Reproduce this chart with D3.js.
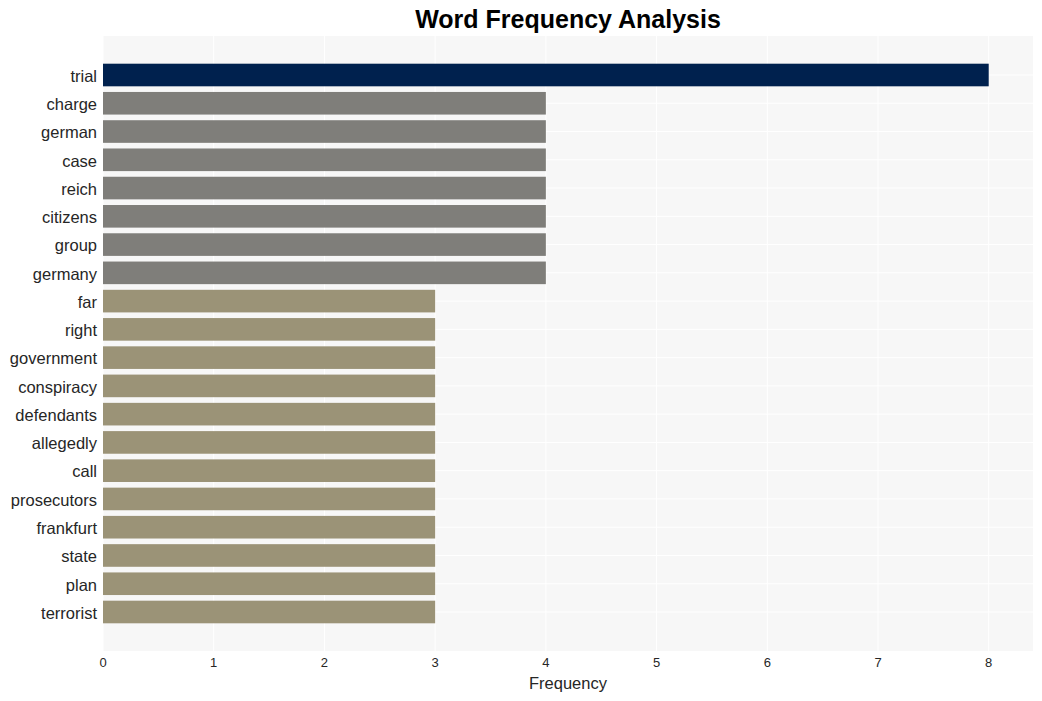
<!DOCTYPE html>
<html>
<head>
<meta charset="utf-8">
<script src="https://cdn.jsdelivr.net/npm/d3@7"></script>
<style>
  body { margin: 0; background: #fff; }
  text { font-family: "Liberation Sans", Arial, sans-serif; }
</style>
</head>
<body>
<div id="chart"></div>
<script>
var words = ['trial', 'charge', 'german', 'case', 'reich', 'citizens', 'group', 'germany',
  'far', 'right', 'government', 'conspiracy', 'defendants', 'allegedly', 'call',
  'prosecutors', 'frankfurt', 'state', 'plan', 'terrorist'];
var counts = [8, 4, 4, 4, 4, 4, 4, 4, 3, 3, 3, 3, 3, 3, 3, 3, 3, 3, 3, 3];
var xTicks = [0, 1, 2, 3, 4, 5, 6, 7, 8];

var chartWidth = 1042;
var chartHeight = 701;
var plotLeft = 103, plotRight = 1033, plotTop = 36, plotBottom = 651;

var svg = d3.select('#chart')
    .append('svg')
    .attr('width', chartWidth)
    .attr('height', chartHeight);

// Scales
var scaleX = d3.scaleLinear()
    .domain([0, 8.4])
    .range([plotLeft, plotRight]);

var scaleY = d3.scaleLinear()
    .domain([-1.38, words.length - 1 + 1.38])
    .range([plotTop, plotBottom]);

var barH = (scaleY(1) - scaleY(0)) * 0.8;

function barColor(d) {
  if (d === 8) return '#00214e';
  if (d === 4) return '#7f7e7a';
  return '#9b9377';
}

// Plot background
svg.append('rect')
    .attr('x', plotLeft)
    .attr('y', plotTop)
    .attr('width', plotRight - plotLeft)
    .attr('height', plotBottom - plotTop)
    .attr('fill', '#f7f7f7');

// Grid lines
svg.selectAll('.vgrid')
    .data(xTicks)
    .enter()
    .append('line')
    .attr('x1', function(d) { return scaleX(d); })
    .attr('x2', function(d) { return scaleX(d); })
    .attr('y1', plotTop)
    .attr('y2', plotBottom)
    .attr('stroke', '#fff')
    .attr('stroke-width', 1);

svg.selectAll('.hgrid')
    .data(words)
    .enter()
    .append('line')
    .attr('x1', plotLeft)
    .attr('x2', plotRight)
    .attr('y1', function(d, i) { return scaleY(i); })
    .attr('y2', function(d, i) { return scaleY(i); })
    .attr('stroke', '#fff')
    .attr('stroke-width', 1);

// Bars
svg.selectAll('.bar')
    .data(counts)
    .enter()
    .append('rect')
    .attr('x', scaleX(0))
    .attr('y', function(d, i) { return scaleY(i) - barH / 2; })
    .attr('width', function(d) { return scaleX(d) - scaleX(0); })
    .attr('height', barH)
    .attr('fill', barColor);

// Y labels
svg.selectAll('.ylab')
    .data(words)
    .enter()
    .append('text')
    .text(function(d) { return d; })
    .attr('x', plotLeft - 6)
    .attr('y', function(d, i) { return scaleY(i) + 1; })
    .attr('dy', '0.35em')
    .attr('text-anchor', 'end')
    .attr('font-size', 16.5)
    .attr('fill', '#262626');

// X axis ticks
svg.selectAll('.xlab')
    .data(xTicks)
    .enter()
    .append('text')
    .text(function(d) { return d; })
    .attr('x', function(d) { return scaleX(d); })
    .attr('y', plotBottom + 16)
    .attr('text-anchor', 'middle')
    .attr('font-size', 13)
    .attr('fill', '#262626');

// Axis title
svg.append('text')
    .text('Frequency')
    .attr('x', (plotLeft + plotRight) / 2)
    .attr('y', 689)
    .attr('text-anchor', 'middle')
    .attr('font-size', 16.5)
    .attr('fill', '#262626');

// Title
svg.append('text')
    .text('Word Frequency Analysis')
    .attr('x', 568)
    .attr('y', 28)
    .attr('text-anchor', 'middle')
    .attr('font-size', 25)
    .attr('font-weight', 'bold')
    .attr('fill', '#000');
</script>
</body>
</html>
